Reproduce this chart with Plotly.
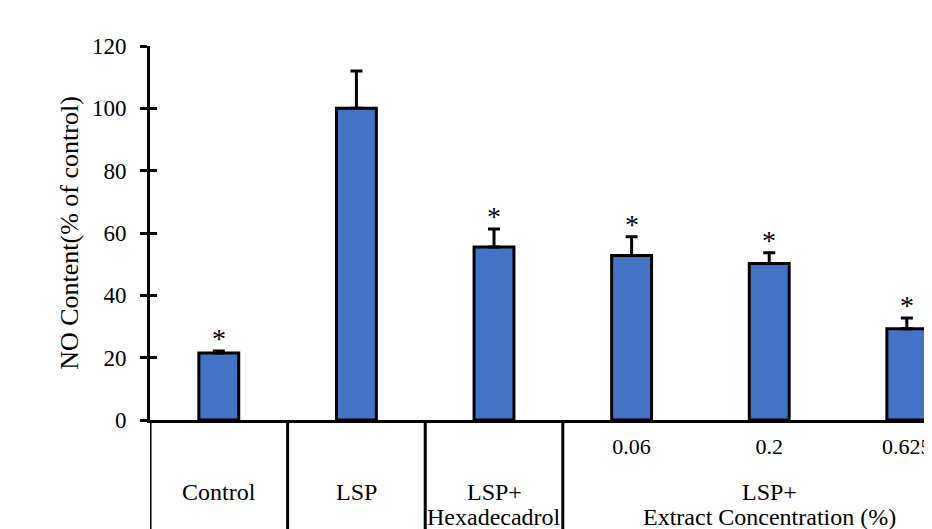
import plotly.graph_objects as go

# ---- data ----
bar_labels = ["Control", "LSP", "LSP+Hexadecadrol", "LSP+0.06", "LSP+0.2", "LSP+0.625"]
no_content = [21.5, 100.0, 55.5, 52.8, 50.2, 29.3]
sem = [0.6, 12.0, 5.8, 6.0, 3.5, 3.4]
significant = [True, False, True, True, True, True]
concentration_ticks = ["", "", "", "0.06", "0.2", "0.625"]
group_line1 = ["Control", "LSP", "LSP+", "LSP+"]
group_line2 = ["", "", "Hexadecadrol", "Extract Concentration (%)"]
group_start = [0, 1, 2, 3]
group_end = [0, 1, 2, 5]
y_ticks = [0, 20, 40, 60, 80, 100, 120]
y_title = "NO Content(% of control)"

FONT = "Liberation Serif"
xs = list(range(len(bar_labels)))

fig = go.Figure()
fig.add_trace(go.Bar(
    x=xs, y=no_content, width=0.29,
    marker=dict(color="#4472C4", line=dict(color="black", width=3)),
    error_y=dict(type="data", array=sem, arrayminus=[0] * len(sem), symmetric=False,
                 color="black", thickness=3, width=6),
    hoverinfo="skip", showlegend=False,
))
# invisible trace for the overlay axis (inside tick marks)
fig.add_trace(go.Scatter(x=[xs[0]], y=[0], yaxis="y2", mode="markers",
                         marker=dict(opacity=0), showlegend=False, hoverinfo="skip"))

# asterisks
for x, v, e, s in zip(xs, no_content, sem, significant):
    if s:
        fig.add_annotation(x=x, y=v + e, xref="x", yref="y", text="*", showarrow=False,
                           yanchor="bottom", yshift=-5,
                           font=dict(family=FONT, size=28, color="black"))

# group separators and labels below axis
for gs, ge, l1, l2 in zip(group_start, group_end, group_line1, group_line2):
    fig.add_shape(type="line", xref="x", yref="paper", x0=gs - 0.5, x1=gs - 0.5,
                  y0=0, y1=-0.4, line=dict(color="black", width=3))
    xc = (gs + ge) / 2
    fig.add_annotation(x=xc, y=-0.193, xref="x", yref="paper", text=l1, showarrow=False,
                       yanchor="middle", font=dict(family=FONT, size=24, color="black"))
    if l2:
        fig.add_annotation(x=xc, y=-0.26, xref="x", yref="paper", text=l2, showarrow=False,
                           yanchor="middle", font=dict(family=FONT, size=24, color="black"))

# page body has an 8px margin: compensate so the plot area sits at x 150-932, y 46-420
fig.update_layout(
    width=932, height=529,
    margin=dict(l=142, r=8, t=38, b=117),
    plot_bgcolor="white", paper_bgcolor="white",
    font=dict(family=FONT, size=23, color="black"),
    xaxis=dict(range=[-0.5, 5.183], tickvals=xs, ticktext=concentration_ticks,
               showline=True, linecolor="black", linewidth=3, ticks="",
               showgrid=False, zeroline=False, ticklabelstandoff=5,
               ticklabeloverflow="allow",
               tickfont=dict(family=FONT, size=22, color="black")),
    yaxis=dict(range=[0, 120], tickvals=y_ticks, showline=True, linecolor="black",
               linewidth=3, ticks="outside", ticklen=7, tickwidth=3, tickcolor="black",
               showgrid=False, zeroline=False, ticklabelstandoff=9,
               tickfont=dict(family=FONT, size=23, color="black"),
               title=dict(text=y_title, standoff=6, font=dict(family=FONT, size=26, color="black"))),
    yaxis2=dict(range=[0, 120], overlaying="y", side="left", tickvals=y_ticks,
                ticks="inside", ticklen=7, tickwidth=3, tickcolor="black",
                showticklabels=False, showgrid=False, zeroline=False, showline=False),
)

fig.write_html("out.html",
               post_script="document.body.style.overflow='hidden';"
                           "document.documentElement.style.overflow='hidden';")
